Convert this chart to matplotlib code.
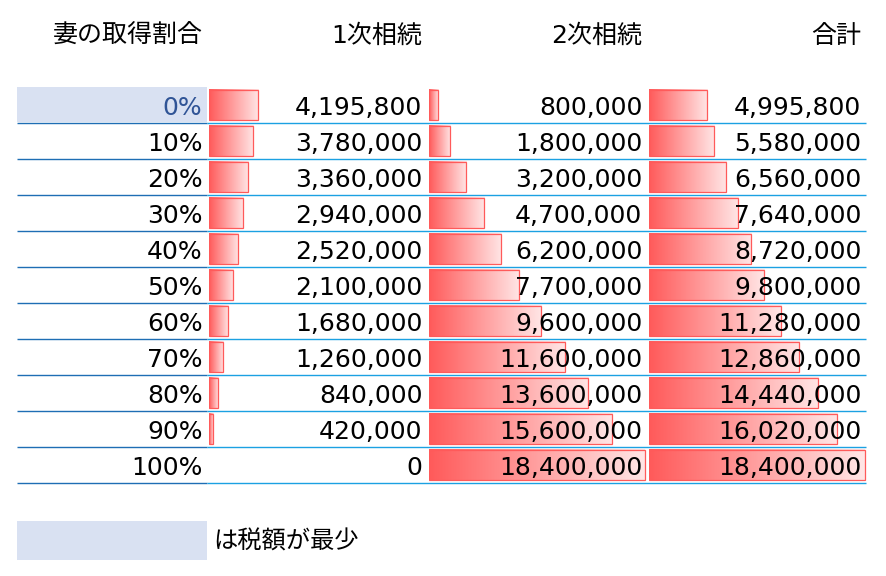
import numpy as np
import matplotlib
matplotlib.use('Agg')
import matplotlib.pyplot as plt
from matplotlib.patches import Rectangle
from matplotlib.colors import LinearSegmentedColormap

# ---- data ----
headers = ['妻の取得割合', '1次相続', '2次相続', '合計']
ratios = ['0%', '10%', '20%', '30%', '40%', '50%', '60%', '70%', '80%', '90%', '100%']
first = [4195800, 3780000, 3360000, 2940000, 2520000, 2100000,
         1680000, 1260000, 840000, 420000, 0]
second = [800000, 1800000, 3200000, 4700000, 6200000, 7700000,
          9600000, 11600000, 13600000, 15600000, 18400000]
total = [4995800, 5580000, 6560000, 7640000, 8720000, 9800000,
         11280000, 12860000, 14440000, 16020000, 18400000]
legend_text = 'は税額が最少'

series = [first, second, total]
n = len(ratios)
min_idx = int(np.argmin(total))
vmax = max(max(s) for s in series)

# ---- layout (pixels) ----
W, H = 886, 576
col_edges = [17, 207, 427, 647, 866]
row_top, row_h = 87, 36
bar_col_w = 220
bar_full = 216

hl_color = '#D9E1F2'
line_a = '#1E6EB4'
line_b = '#1BA1E2'
bar_edge = '#FF5A5A'
cmap = LinearSegmentedColormap.from_list('g', ['#FF5A5A', '#FFE6E6'])

fig = plt.figure(figsize=(W / 100, H / 100), dpi=100)
ax = fig.add_axes([0, 0, 1, 1])
ax.set_xlim(0, W)
ax.set_ylim(H, 0)
ax.axis('off')
ax.set_zorder(10)
ax.patch.set_visible(False)

# bar columns
grad = np.linspace(0, 1, 256).reshape(1, -1)
for j, vals in enumerate(series):
    left_px = col_edges[j + 1] + 1.5
    bax = fig.add_axes([left_px / W, 1 - (row_top + n * row_h) / H,
                        bar_col_w / W, n * row_h / H])
    bax.axis('off')
    bax.patch.set_visible(False)
    hgt = 0.86
    for i, v in enumerate(vals):
        if v > 0:
            bax.imshow(grad, extent=[0, v, i + hgt / 2, i - hgt / 2],
                       aspect='auto', cmap=cmap, interpolation='bilinear', zorder=1)
    bax.barh(range(n), vals, height=hgt, left=0, facecolor='none',
             edgecolor=[bar_edge if v > 0 else 'none' for v in vals],
             linewidth=0.9, zorder=2)
    bax.set_xlim(0, vmax * bar_col_w / bar_full)
    bax.set_ylim(n - 0.5, -0.5)

# highlight of minimum row
ax.add_patch(Rectangle((col_edges[0], row_top + min_idx * row_h),
                       col_edges[1] - col_edges[0], row_h - 1,
                       facecolor=hl_color, edgecolor='none', zorder=0))

# row lines
for i in range(n):
    y = row_top + (i + 1) * row_h
    ax.plot([col_edges[0], col_edges[1]], [y, y], color=line_a, lw=1.0,
            solid_capstyle='butt')
    ax.plot([col_edges[1], col_edges[4]], [y, y], color=line_b, lw=1.0,
            solid_capstyle='butt')

# headers
for j, h in enumerate(headers):
    ax.text(col_edges[j + 1] - 4.5, 43, h, ha='right', va='baseline',
            fontsize=18, family=['DejaVu Sans', 'Noto Sans CJK JP'], color='black')

# cells
for i in range(n):
    yb = row_top + i * row_h + 28
    ax.text(col_edges[1] - 4.5, yb, ratios[i], ha='right', va='baseline',
            fontsize=18, family='DejaVu Sans',
            color='#305496' if i == min_idx else 'black')
    for j, vals in enumerate(series):
        ax.text(col_edges[j + 2] - 4.5, yb, f'{vals[i]:,}', ha='right',
                va='baseline', fontsize=18, family='DejaVu Sans', color='black')

# legend
ax.add_patch(Rectangle((17, 521), 190, 39, facecolor=hl_color, edgecolor='none'))
ax.text(213, 549, legend_text, ha='left', va='baseline', fontsize=17.5,
        family=['Noto Sans CJK JP', 'DejaVu Sans'], color='black')

fig.savefig('out.png', dpi=100)
